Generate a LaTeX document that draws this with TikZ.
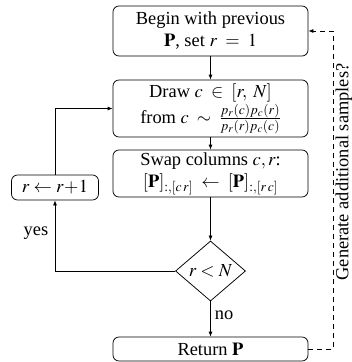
\documentclass[tikz,border=0pt]{standalone}
\usepackage{mathptmx}
\usepackage[no-math]{fontspec}
\setmainfont{Liberation Serif}
\usetikzlibrary{shapes.geometric,arrows.meta}
\tikzset{
  stepbox/.style={draw, rounded corners=6pt, align=center, inner sep=2pt, line width=0.75pt},
  decision/.style={draw, diamond, aspect=1, inner sep=1pt, minimum width=70pt, line width=0.75pt},
  flow/.style={line width=0.75pt, -{Latex[length=5pt,width=4pt]}},
  back/.style={line width=0.75pt, dash pattern=on 5pt off 4pt, -{Latex[length=5pt,width=4pt]}},
}
\begin{document}
\begin{tikzpicture}[x=1pt, y=-1pt, font=\fontsize{18.4}{22}\selectfont]
  \useasboundingbox (0,0) rectangle (352,362);

  % main column
  \node[stepbox, minimum width=195pt, minimum height=50pt] (begin) at (210.5,31)
    {Begin with previous\\ $\mathbf{P}$, set $r\;=\;1$};
  \node[stepbox, minimum width=195pt, minimum height=57pt] (draw) at (210.5,108.5)
    {Draw $c\;\in\;[r,\;N]$\\[1pt] from $c\;\sim\;\frac{p_r(c)p_c(r)}{p_r(r)p_c(c)}$};
  \node[stepbox, minimum width=195pt, minimum height=47pt] (swap) at (210.5,173.5)
    {Swap columns $c, r$:\\ $[\mathbf{P}]_{:,[c\,r]}\;\leftarrow\;[\mathbf{P}]_{:,[r\,c]}$};
  \node[decision] (test) at (210.5,271) {$r<N$};
  \node[stepbox, minimum width=195pt, minimum height=24pt, inner sep=1pt] (ret) at (210.5,349)
    {Return $\mathbf{P}$};

  % increment on the left branch
  \node[stepbox, minimum width=87pt, minimum height=25pt, inner sep=1pt] (inc) at (55,187.5)
    {$r\leftarrow r\!+\!1$};

  \coordinate (loopbot) at (55,271);
  \coordinate (looptop) at (55,108.5);
  \coordinate (sidebot) at (333,349);
  \coordinate (sidetop) at (333,31);

  \draw[flow] (begin) -- (draw);
  \draw[flow] (draw) -- (swap);
  \draw[flow] (swap) -- (test);
  \draw[flow] (test) -- node[right, pos=0.38, inner sep=4pt] (no) {no} (ret);

  \draw[flow] (test.west) -- (loopbot) -- (inc.south);
  \node (yes) at (36,233) {yes};
  \draw[flow] (inc.north) -- (looptop) -- (draw.west);

  \draw[back] (ret.east) -- (sidebot) -- (sidetop) -- (begin.east);
  \node[rotate=90] (more) at (344,172) {Generate additional samples?};
\end{tikzpicture}
\end{document}
